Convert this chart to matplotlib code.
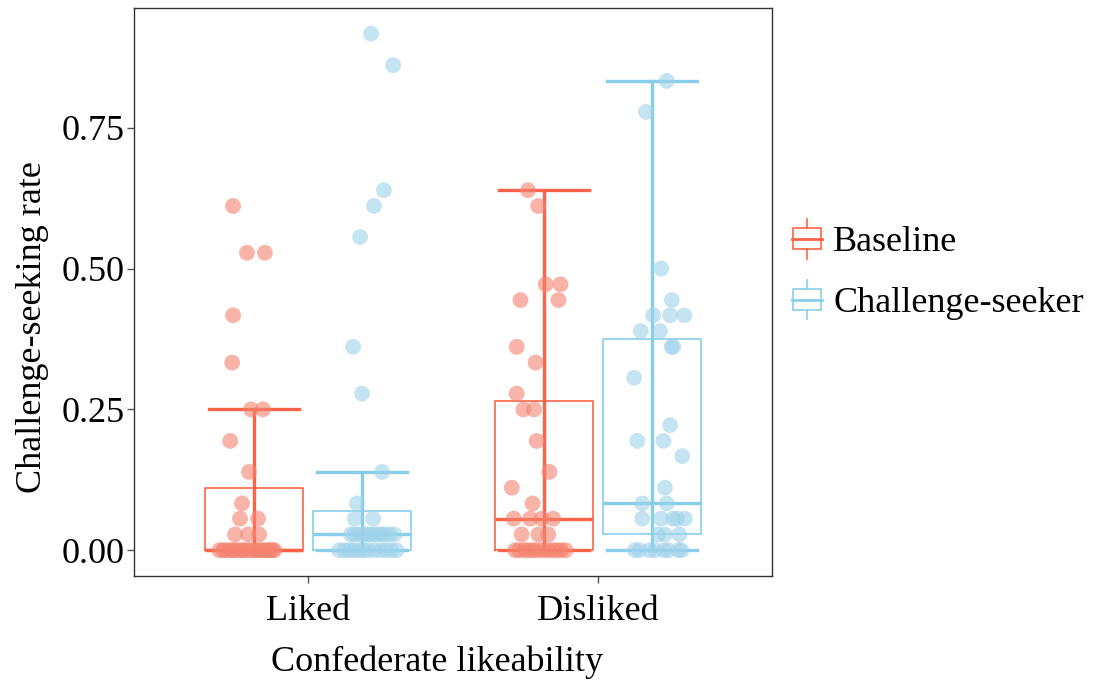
import matplotlib
matplotlib.use("Agg")
import matplotlib.pyplot as plt
from matplotlib import cbook
from matplotlib.lines import Line2D
from matplotlib.patches import Rectangle
from matplotlib.legend_handler import HandlerBase

plt.rcParams['font.family'] = ['Liberation Serif', 'DejaVu Serif']

# data (rates, 35 participants per cell)
categories = ["Liked", "Disliked"]
groups = ["Baseline", "Challenge-seeker"]

liked_baseline = [0.611, 0.528, 0.528, 0.417, 0.333, 0.25, 0.25, 0.194, 0.139, 0.083,
                  0.056, 0.056, 0.028, 0.028, 0.028] + [0.0] * 20
liked_challenge = [0.917, 0.861, 0.639, 0.611, 0.556, 0.361, 0.278, 0.139, 0.083,
                   0.056, 0.056] + [0.028] * 12 + [0.0] * 12
disliked_baseline = [0.639, 0.611, 0.472, 0.472, 0.444, 0.444, 0.361, 0.333, 0.278,
                     0.25, 0.25, 0.194, 0.139, 0.111, 0.083, 0.056, 0.056, 0.056, 0.056,
                     0.028, 0.028, 0.028] + [0.0] * 13
disliked_challenge = [0.833, 0.778, 0.5, 0.444, 0.417, 0.417, 0.417, 0.389, 0.389,
                      0.361, 0.361, 0.306, 0.222, 0.194, 0.194, 0.167, 0.111, 0.083, 0.083,
                      0.056, 0.056, 0.056, 0.056, 0.056, 0.028, 0.028, 0.028] + [0.0] * 8

# horizontal jitter of each point (x units)
jit_liked_baseline = [-0.071, -0.023, 0.039, -0.071, -0.074, -0.009, 0.032, -0.081, -0.016,
                      -0.040, -0.047, 0.015, -0.064, -0.019, 0.019,
                      -0.118, -0.105, -0.097, -0.082, -0.071, -0.066, -0.052, -0.040, -0.036,
                      -0.021, -0.012, 0.003, 0.008, 0.021, 0.030, 0.041, 0.048, 0.057, 0.066, 0.071]
jit_liked_challenge = [0.030, 0.106, 0.074, 0.040, -0.008, -0.032, -0.001, 0.068, -0.019,
                       -0.026, 0.037,
                       -0.040, -0.028, -0.012, 0.003, 0.015, 0.027, 0.040, 0.052, 0.066, 0.078,
                       0.093, 0.110,
                       -0.080, -0.062, -0.045, -0.030, -0.012, 0.004, 0.020, 0.043, 0.064, 0.082,
                       0.100, 0.118]
jit_disliked_baseline = [-0.054, -0.019, 0.007, 0.058, -0.080, 0.051, -0.093, -0.028, -0.093,
                         -0.070, -0.033, -0.024, 0.020, -0.110, -0.038,
                         -0.103, -0.047, -0.007, 0.033, -0.076, -0.018, 0.016,
                         -0.098, -0.085, -0.068, -0.055, -0.040, -0.030, -0.012, 0.002, 0.018,
                         0.032, 0.047, 0.060, 0.076]
jit_disliked_challenge = [0.049, -0.022, 0.030, 0.067, 0.003, 0.061, 0.110, -0.040, 0.026,
                          0.066, 0.072, -0.063, 0.061, -0.052, 0.038, 0.103, 0.043, -0.035, 0.049,
                          -0.035, 0.030, 0.071, 0.085, 0.112, 0.020, 0.043, 0.093,
                          -0.060, -0.045, -0.010, 0.009, 0.040, 0.055, 0.090, 0.100]

line_colors = ["#FF6347", "#87CEEB"]
point_colors = ["#F4836F", "#9FD3EA"]
dodge = 0.1875
box_w = 0.3375
cap_w = 0.31


class BoxHandler(HandlerBase):
    def create_artists(self, legend, orig_handle, xdescent, ydescent, width, height, fontsize, trans):
        c = orig_handle.get_color()
        x0, y0 = -xdescent, -ydescent
        cx, cy = x0 + width / 2, y0 + height / 2
        rect = Rectangle((x0 + 0.05 * width, y0 + 0.1 * height), 0.9 * width, 0.8 * height,
                         fill=False, edgecolor=c, lw=1.2, transform=trans)
        med = Line2D([x0, x0 + width], [cy, cy], color=c, lw=2, transform=trans)
        top = Line2D([cx, cx], [y0 + 0.9 * height, y0 + height * 1.25], color=c, lw=1.2, transform=trans)
        bot = Line2D([cx, cx], [y0 + 0.1 * height, y0 - height * 0.25], color=c, lw=1.2, transform=trans)
        return [rect, med, top, bot]


fig = plt.figure(figsize=(10.94, 6.82), dpi=100)
ax = fig.add_axes([0.1225, 0.1554, 0.5832, 0.8329])

cells = [
    (0, 0, liked_baseline, jit_liked_baseline),
    (0, 1, liked_challenge, jit_liked_challenge),
    (1, 0, disliked_baseline, jit_disliked_baseline),
    (1, 1, disliked_challenge, jit_disliked_challenge),
]

for ci, gi, vals, jit in cells:
    pos = ci + 1 + (dodge if gi else -dodge)
    col = line_colors[gi]
    st = cbook.boxplot_stats(vals, whis=1.5)
    ax.bxp(st, positions=[pos], widths=box_w, showfliers=False, capwidths=cap_w,
           boxprops=dict(color=col, lw=1.2),
           medianprops=dict(color=col, lw=2.4),
           whiskerprops=dict(color=col, lw=2.4),
           capprops=dict(color=col, lw=2.4), manage_ticks=False)
    ax.vlines(pos, st[0]['q1'], st[0]['q3'], color=col, lw=2.4)
    xs = [pos + j for j in jit]
    ax.scatter(xs, vals, s=130, color=point_colors[gi], alpha=0.6, edgecolors='none', zorder=3)

ax.set_xlim(0.4, 2.6)
ax.set_ylim(-0.0458, 0.9625)
ax.set_xticks([1, 2])
ax.set_xticklabels(categories)
ax.set_yticks([0, 0.25, 0.5, 0.75])
ax.set_yticklabels(["0.00", "0.25", "0.50", "0.75"])
ax.tick_params(axis='both', labelsize=26, length=5, width=1, color='#555555', pad=2)
ax.tick_params(axis='x', pad=9)
for sp in ax.spines.values():
    sp.set_color('#333333')
    sp.set_linewidth(1)

ax.set_xlabel("Confederate likeability", fontsize=26)
ax.set_ylabel("Challenge-seeking rate", fontsize=26)
ax.xaxis.set_label_coords(0.475, -0.122)
ax.yaxis.set_label_coords(-0.133, 0.438)

handles = [Line2D([], [], color=c, label=g) for c, g in zip(line_colors, groups)]
fig.legend(handles=handles, handler_map={Line2D: BoxHandler()},
           loc='center left', bbox_to_anchor=(0.694, 0.6), frameon=False,
           fontsize=26, handlelength=0.85, handleheight=0.75, handletextpad=0.3,
           labelspacing=0.75)

fig.savefig("out.png", dpi=100)
